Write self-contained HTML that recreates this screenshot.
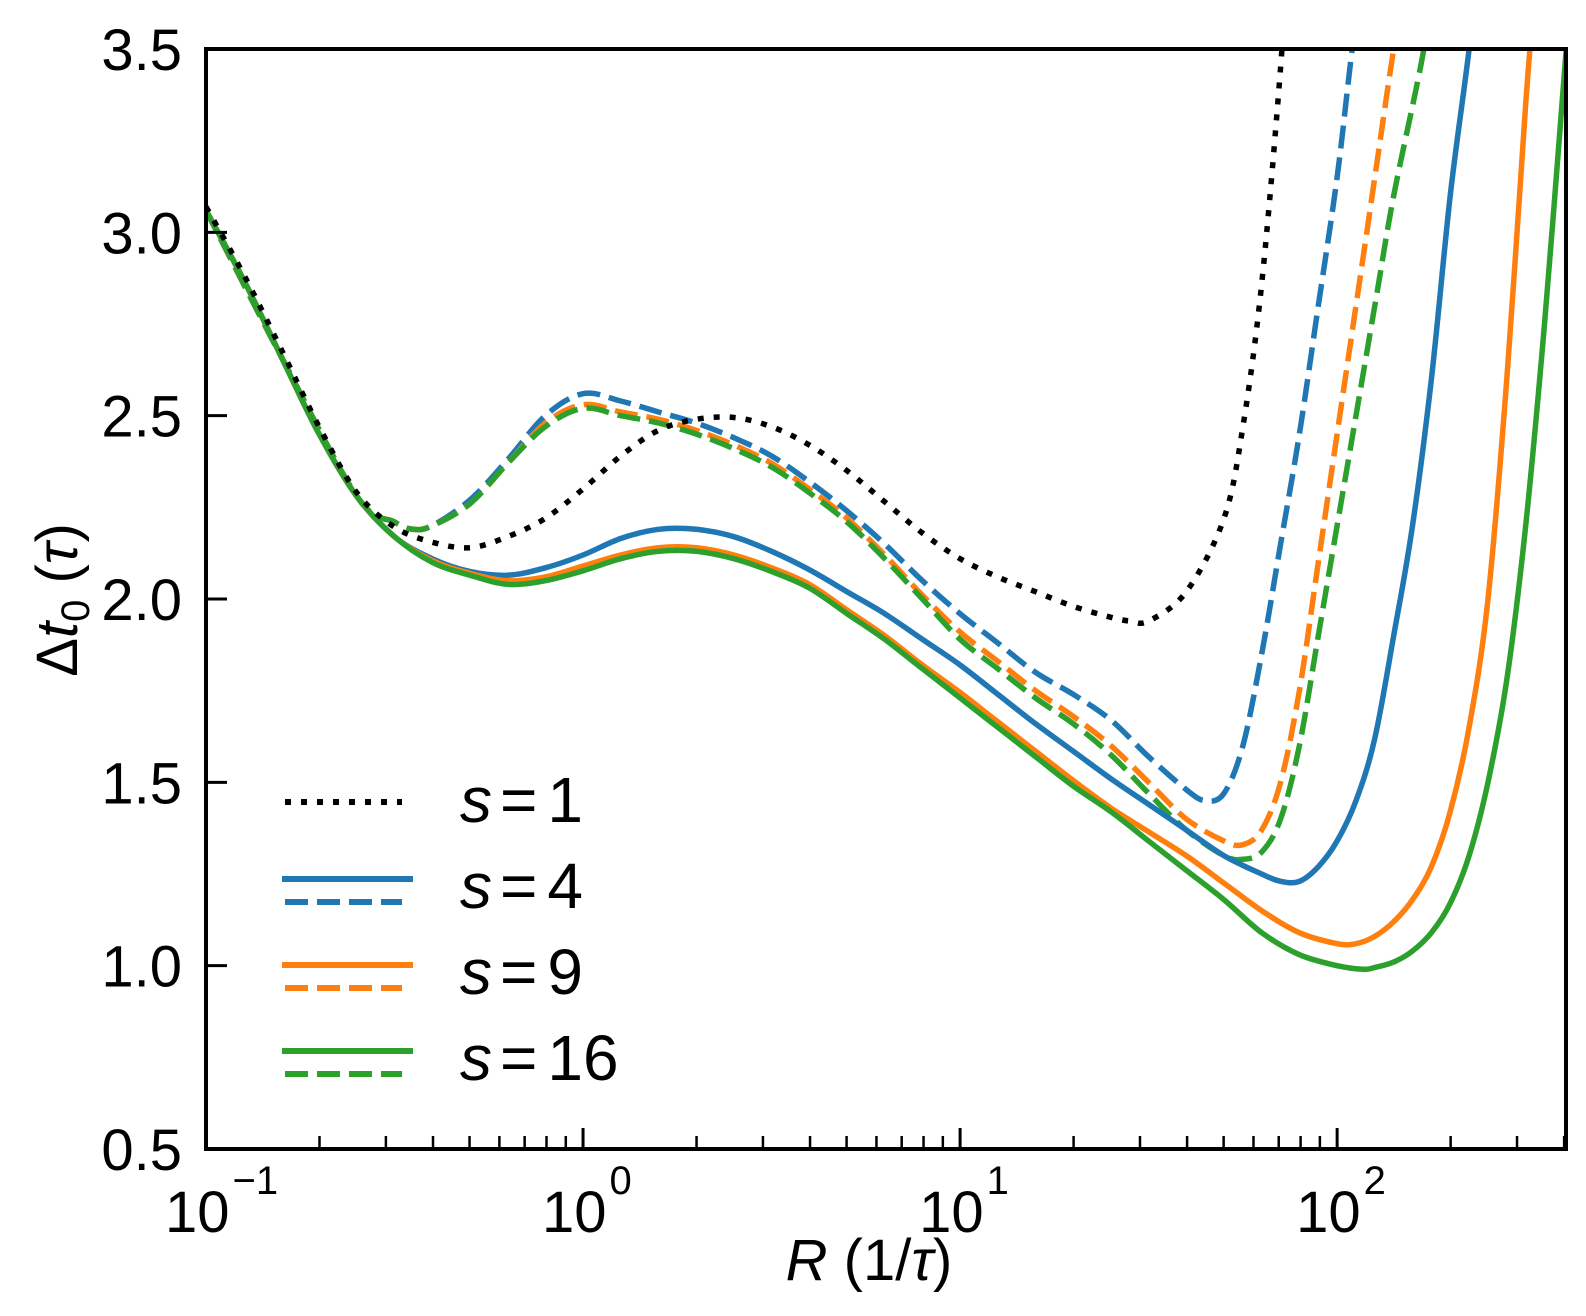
<!DOCTYPE html>
<html><head><meta charset="utf-8"><style>
html,body{margin:0;padding:0;background:#fff}
svg text{font-family:"Liberation Sans",sans-serif;fill:#000}
</style></head><body>
<svg id="chart" width="1586" height="1311" viewBox="0 0 1586 1311" xmlns="http://www.w3.org/2000/svg">
<defs><clipPath id="plotclip"><rect x="206" y="49" width="1360" height="1100"/></clipPath></defs>
<g id="series" clip-path="url(#plotclip)"></g>
<g id="axes"></g>
<rect x="206" y="49" width="1360" height="1100" fill="none" stroke="#000" stroke-width="4"/>
<text x="869" y="1280" font-size="58" text-anchor="middle"><tspan font-style="italic">R</tspan> (1/<tspan font-style="italic">τ</tspan>)</text>
<text transform="translate(77,600) rotate(-90)" font-size="58" text-anchor="middle">Δ<tspan font-style="italic">t</tspan><tspan font-size="40" dy="12">0</tspan><tspan dy="-12"> (</tspan><tspan font-style="italic">τ</tspan>)</text>
<g id="legend"></g>
</svg>
<script>
const xLogMin = -1, xLogMax = 2.607, yMin = 0.5, yMax = 3.5;
const yTicks = [0.5, 1.0, 1.5, 2.0, 2.5, 3.0, 3.5];
const yTickLabels = ["0.5","1.0","1.5","2.0","2.5","3.0","3.5"];
const xDecades = [-1, 0, 1, 2];
const xDecadeLabels = ["−1","0","1","2"];
const seriesNames = ["s=1","s=4 solid","s=4 dashed","s=9 solid","s=9 dashed","s=16 solid","s=16 dashed"];
const s1LogX = [-1,-0.9,-0.8,-0.7,-0.6,-0.5,-0.4,-0.3,-0.2,-0.1,0,0.1,0.2,0.3,0.4,0.5,0.6,0.7,0.8,0.9,1.0,1.1,1.2,1.3,1.4,1.45,1.5,1.6,1.7,1.75,1.8,1.85,1.87];
const s1Y = [3.07,2.885,2.68,2.47,2.29,2.196,2.155,2.14,2.17,2.22,2.30,2.39,2.46,2.49,2.495,2.47,2.42,2.35,2.265,2.18,2.11,2.06,2.02,1.98,1.95,1.94,1.94,2.02,2.22,2.47,2.86,3.45,3.8];
const s4sLogX = [-1,-0.9,-0.8,-0.7,-0.6,-0.5,-0.4,-0.3,-0.2,-0.1,0,0.1,0.2,0.3,0.4,0.5,0.6,0.7,0.8,0.9,1.0,1.1,1.2,1.3,1.4,1.5,1.6,1.7,1.8,1.85,1.9,1.95,2.0,2.05,2.1,2.15,2.2,2.25,2.3,2.35,2.38];
const s4sY = [3.06,2.87,2.66,2.45,2.28,2.17,2.11,2.075,2.065,2.085,2.12,2.165,2.19,2.19,2.17,2.13,2.08,2.02,1.96,1.89,1.82,1.74,1.66,1.585,1.51,1.44,1.37,1.30,1.25,1.23,1.23,1.27,1.34,1.45,1.62,1.9,2.2,2.6,3.1,3.5,3.8];
const s4dLogX = [-1,-0.8,-0.6,-0.5,-0.45,-0.4,-0.3,-0.2,-0.1,0,0.1,0.2,0.3,0.4,0.5,0.6,0.7,0.8,0.9,1.0,1.1,1.2,1.3,1.4,1.5,1.6,1.65,1.7,1.75,1.8,1.85,1.9,1.95,2.0,2.04,2.08];
const s4dY = [3.06,2.66,2.28,2.21,2.19,2.2,2.27,2.38,2.5,2.56,2.54,2.51,2.48,2.44,2.39,2.32,2.24,2.15,2.05,1.96,1.88,1.80,1.74,1.67,1.57,1.48,1.45,1.47,1.6,1.85,2.15,2.45,2.8,3.15,3.5,3.8];
const s9sLogX = [-1,-0.9,-0.8,-0.7,-0.6,-0.5,-0.4,-0.3,-0.2,-0.1,0,0.1,0.2,0.3,0.4,0.5,0.6,0.7,0.8,0.9,1.0,1.1,1.2,1.3,1.4,1.5,1.6,1.7,1.8,1.9,2.0,2.05,2.1,2.15,2.2,2.25,2.3,2.35,2.4,2.45,2.5,2.52];
const s9sY = [3.06,2.87,2.66,2.45,2.28,2.17,2.105,2.07,2.05,2.06,2.09,2.12,2.14,2.14,2.12,2.085,2.04,1.97,1.90,1.82,1.745,1.665,1.585,1.505,1.43,1.365,1.30,1.225,1.15,1.09,1.06,1.06,1.08,1.12,1.18,1.27,1.42,1.65,2.0,2.6,3.35,3.6];
const s9dLogX = [-1,-0.8,-0.6,-0.5,-0.45,-0.4,-0.3,-0.2,-0.1,0,0.1,0.2,0.3,0.4,0.5,0.6,0.7,0.8,0.9,1.0,1.1,1.2,1.3,1.4,1.5,1.6,1.7,1.75,1.8,1.85,1.9,1.95,2.0,2.05,2.1,2.15,2.2];
const s9dY = [3.06,2.66,2.28,2.21,2.19,2.2,2.26,2.37,2.48,2.53,2.51,2.49,2.46,2.42,2.37,2.30,2.22,2.12,2.01,1.91,1.83,1.75,1.68,1.60,1.50,1.40,1.34,1.33,1.37,1.5,1.75,2.1,2.45,2.8,3.15,3.5,3.8];
const s16sLogX = [-1,-0.9,-0.8,-0.7,-0.6,-0.5,-0.4,-0.3,-0.2,-0.1,0,0.1,0.2,0.3,0.4,0.5,0.6,0.7,0.8,0.9,1.0,1.1,1.2,1.3,1.4,1.5,1.6,1.7,1.8,1.9,2.0,2.07,2.1,2.15,2.2,2.25,2.3,2.35,2.4,2.45,2.5,2.55,2.6,2.63];
const s16sY = [3.06,2.87,2.66,2.45,2.28,2.17,2.10,2.065,2.04,2.05,2.077,2.11,2.13,2.13,2.11,2.075,2.03,1.96,1.89,1.81,1.73,1.65,1.57,1.49,1.42,1.34,1.26,1.18,1.09,1.03,1.0,0.99,0.995,1.01,1.04,1.09,1.17,1.3,1.5,1.78,2.2,2.75,3.4,3.8];
const s16dLogX = [-1,-0.8,-0.6,-0.5,-0.45,-0.4,-0.3,-0.2,-0.1,0,0.1,0.2,0.3,0.4,0.5,0.6,0.7,0.8,0.9,1.0,1.1,1.2,1.3,1.4,1.5,1.6,1.7,1.75,1.8,1.85,1.9,1.95,2.0,2.1,2.15,2.23,2.27];
const s16dY = [3.06,2.66,2.28,2.21,2.19,2.2,2.26,2.37,2.47,2.52,2.50,2.48,2.45,2.41,2.36,2.29,2.21,2.11,2.0,1.89,1.81,1.73,1.66,1.575,1.47,1.37,1.30,1.29,1.31,1.4,1.6,1.9,2.2,2.8,3.1,3.5,3.8];

const L = 206, R = 1566, T = 49, B = 1149;
function xPix(lx){ return L + (lx - xLogMin) / (xLogMax - xLogMin) * (R - L); }
function yPix(v){ return B - (v - yMin) / (yMax - yMin) * (B - T); }
const NS = "http://www.w3.org/2000/svg";
function mk(tag, attrs, parent){ const e = document.createElementNS(NS, tag); for (const k in attrs) e.setAttribute(k, attrs[k]); parent.appendChild(e); return e; }
function pathFrom(xs, ys){
  const p = xs.map((x,i)=>[xPix(x), yPix(ys[i])]);
  let d = "M" + p[0][0].toFixed(1) + "," + p[0][1].toFixed(1);
  for (let i=0;i<p.length-1;i++){
    const p0=p[Math.max(0,i-1)], p1=p[i], p2=p[i+1], p3=p[Math.min(p.length-1,i+2)];
    const c1=[p1[0]+(p2[0]-p0[0])/6, p1[1]+(p2[1]-p0[1])/6];
    const c2=[p2[0]-(p3[0]-p1[0])/6, p2[1]-(p3[1]-p1[1])/6];
    d += "C"+c1[0].toFixed(1)+","+c1[1].toFixed(1)+" "+c2[0].toFixed(1)+","+c2[1].toFixed(1)+" "+p2[0].toFixed(1)+","+p2[1].toFixed(1);
  }
  return d;
}
const blue="#1f77b4", orange="#ff7f0e", green="#2ca02c";
const DASH="23,9", DOT="6,10";
const sg = document.getElementById("series");
const specs = [
  [s4dLogX,s4dY,blue,DASH,"curve-s4-dashed"],
  [s9dLogX,s9dY,orange,DASH,"curve-s9-dashed"],
  [s16dLogX,s16dY,green,DASH,"curve-s16-dashed"],
  [s4sLogX,s4sY,blue,null,"curve-s4-solid"],
  [s9sLogX,s9sY,orange,null,"curve-s9-solid"],
  [s16sLogX,s16sY,green,null,"curve-s16-solid"],
  [s1LogX,s1Y,"#000",DOT,"curve-s1-dotted"]
];
specs.forEach(s=>{
  const attrs = {d: pathFrom(s[0],s[1]), fill:"none", stroke:s[2], "stroke-width":5.5, "stroke-linejoin":"round"};
  if (s[3]) attrs["stroke-dasharray"]=s[3];
  const el = mk("path", attrs, sg);
  
  
});
const ax = document.getElementById("axes");
yTicks.forEach((v,i)=>{
  const y = yPix(v);
  const t = mk("line",{x1:L,x2:L+21,y1:y,y2:y,stroke:"#000","stroke-width":3},ax);
  
  
  const lb = mk("text",{x:182,y:y+21,"font-size":58,"text-anchor":"end"},ax);
  lb.textContent = yTickLabels[i];
  
  
});
xDecades.forEach((dec,i)=>{
  const x = xPix(dec);
  if (dec > xLogMin) {
    const t = mk("line",{x1:x,x2:x,y1:B,y2:B-21,stroke:"#000","stroke-width":3},ax);
    
    
  }
  for (let m=2;m<=9;m++){
    const lx = dec + Math.log10(m);
    if (lx > xLogMax) break;
    const mt = mk("line",{x1:xPix(lx),x2:xPix(lx),y1:B,y2:B-13,stroke:"#000","stroke-width":2.5},ax);
    
    
  }
  const lb = mk("text",{x:x-41,y:1232,"font-size":58},ax);
  
  
  lb.appendChild(document.createTextNode("10"));
  const sup = mk("tspan",{"font-size":40,dy:-38,dx:3},lb);
  sup.textContent = xDecadeLabels[i];
});
const lg = document.getElementById("legend");
const legendRows = [
  {label:"1", base:822, lines:[[802,"#000",DOT]]},
  {label:"4", base:908, lines:[[879,blue,null],[902,blue,DASH]]},
  {label:"9", base:994, lines:[[965,orange,null],[988,orange,DASH]]},
  {label:"16", base:1080, lines:[[1051,green,null],[1074,green,DASH]]}
];
legendRows.forEach(r=>{
  r.lines.forEach(l=>{
    const dashed = !!l[2];
    const a = {x1: dashed?285:282, x2: dashed?402:413, y1:l[0], y2:l[0], stroke:l[1], "stroke-width":6};
    if (l[2]) a["stroke-dasharray"]=l[2];
    const el = mk("line", a, lg);
    
    
  });
  const t = mk("text",{x:460,y:r.base,"font-size":64},lg);
  
  
  const s = mk("tspan",{"font-style":"italic"},t); s.textContent = "s";
  const e = mk("tspan",{dx:8},t); e.textContent = "=";
  const n = mk("tspan",{dx:10},t); n.textContent = r.label;
});
</script>
</body></html>
